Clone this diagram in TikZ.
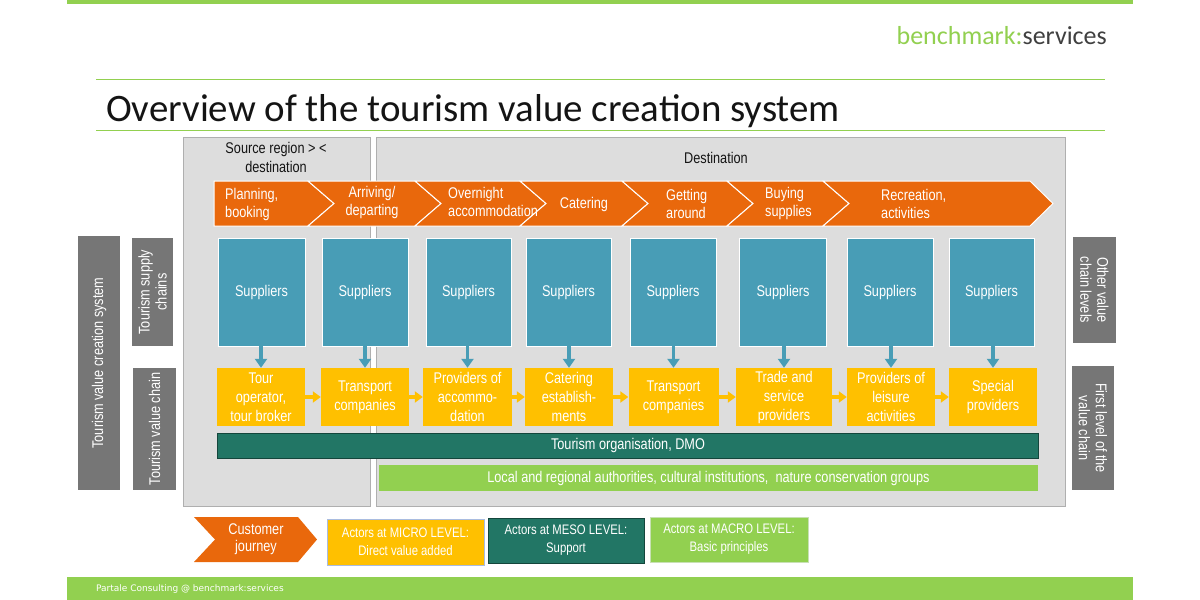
\documentclass[tikz,border=0pt]{standalone}
\usepackage{fontspec}
\setmainfont[FakeStretch=0.82]{Liberation Sans}
\newfontfamily\titlefont{Carlito}
\newfontfamily\footfont{DejaVu Sans}
\usetikzlibrary{arrows.meta}
\definecolor{bgreen}{RGB}{146,208,80}
\definecolor{jorange}{RGB}{233,104,12}
\definecolor{supteal}{RGB}{72,157,182}
\definecolor{microy}{RGB}{255,192,0}
\definecolor{mesoteal}{RGB}{34,118,101}
\definecolor{mesoline}{RGB}{20,70,60}
\definecolor{lblgray}{RGB}{118,118,118}
\definecolor{regiongray}{RGB}{221,221,221}
\definecolor{regionline}{RGB}{175,175,175}
\definecolor{darktext}{RGB}{20,20,20}
\definecolor{servgray}{RGB}{64,64,64}
\definecolor{microline}{RGB}{169,188,224}
\definecolor{macroline}{RGB}{200,224,180}
\begin{document}
\begin{tikzpicture}[x=1pt,y=-1pt,
  region/.style={fill=regiongray,draw=regionline,line width=0.8pt},
  chev/.style={fill=jorange,draw=white,line width=1pt},
  chevtext/.style={text=white,font=\fontsize{15.5}{18}\selectfont,inner sep=0pt},
  supbox/.style={rectangle,fill=supteal,draw=white,line width=0.8pt,text=white,
    font=\fontsize{15.5}{17}\selectfont,inner sep=0pt,minimum height=108pt},
  valbox/.style={rectangle,fill=microy,text=white,align=center,
    font=\fontsize{15.5}{19}\selectfont,inner sep=0pt,minimum height=58pt},
  labbox/.style={rectangle,fill=lblgray,text=white,align=center,
    font=\fontsize{15.5}{17}\selectfont,inner sep=0pt},
  down/.style={draw=supteal,line width=3.5pt,-{Triangle[width=12pt,length=9pt]}},
  side/.style={draw=microy,line width=3.5pt,-{Triangle[width=11pt,length=8pt]}},
  legbox/.style={rectangle,text=white,align=center,line width=0.8pt,
    font=\fontsize{13.8}{18}\selectfont,inner sep=0pt},
  bar/.style={rectangle,text=white,inner sep=0pt,font=\fontsize{15.5}{17}\selectfont}]
\useasboundingbox[fill=white] (0,0) rectangle (1200,600);
% header
\fill[bgreen] (67,0) rectangle (1133,4);
\node[anchor=base east,inner sep=0pt,font=\titlefont\fontsize{26}{30}\selectfont] (brand) at (1107,44)
  {\textcolor{bgreen}{benchmark:}\textcolor{servgray}{services}};
\draw[bgreen,line width=1pt] (96,79) -- (1105,79);
\node[anchor=base west,inner sep=0pt,text=darktext,font=\titlefont\fontsize{38.9}{42}\selectfont] (title) at (106,121)
  {Overview of the tourism value creation system};
\draw[bgreen,line width=1pt] (96,130) -- (1105,130);
% regions
\draw[region] (183,137) rectangle (370,506);
\draw[region] (376,137) rectangle (1065,506);
\node[align=center,text=darktext,font=\fontsize{15.5}{19}\selectfont,inner sep=0pt] (src) at (276,157.5)
  {Source region > <\\destination};
\node[text=darktext,font=\fontsize{15.5}{17}\selectfont,inner sep=0pt] (dst) at (716,158) {Destination};
% chevron band
\fill[chev] (214,181) -- (308,181) -- (334,203.5) -- (308,226) -- (214,226) -- cycle;
\fill[chev] (308,181) -- (415,181) -- (441,203.5) -- (415,226) -- (308,226) -- (334,203.5) -- cycle;
\fill[chev] (415,181) -- (520,181) -- (546,203.5) -- (520,226) -- (415,226) -- (441,203.5) -- cycle;
\fill[chev] (520,181) -- (622,181) -- (648,203.5) -- (622,226) -- (520,226) -- (546,203.5) -- cycle;
\fill[chev] (622,181) -- (727,181) -- (753,203.5) -- (727,226) -- (622,226) -- (648,203.5) -- cycle;
\fill[chev] (727,181) -- (823,181) -- (849,203.5) -- (823,226) -- (727,226) -- (753,203.5) -- cycle;
\fill[chev] (823,181) -- (1030,181) -- (1053,203.5) -- (1030,226) -- (823,226) -- (849,203.5) -- cycle;
\node[chevtext,anchor=west,align=left] (c1) at (225,204) {Planning,\\booking};
\node[chevtext,align=center] (c2) at (372,202) {Arriving/\\departing};
\node[chevtext,anchor=west,align=left] (c3) at (448,202) {Overnight\\accommodation};
\node[chevtext] (c4) at (584,204) {Catering};
\node[chevtext,anchor=west,align=left] (c5) at (666,203.5) {Getting\\around};
\node[chevtext,anchor=west,align=left] (c6) at (765,203.5) {Buying\\supplies};
\node[chevtext,anchor=west,align=left] (c7) at (881,203.5) {Recreation,\\activities};
% suppliers
\node[supbox,minimum width=87pt] (s1) at (261.5,292) {Suppliers};
\node[supbox,minimum width=86pt] (s2) at (365,292) {Suppliers};
\node[supbox,minimum width=85pt] (s3) at (468.5,292) {Suppliers};
\node[supbox,minimum width=85pt] (s4) at (568.5,292) {Suppliers};
\node[supbox,minimum width=86pt] (s5) at (673,292) {Suppliers};
\node[supbox,minimum width=87pt] (s6) at (783,292) {Suppliers};
\node[supbox,minimum width=86pt] (s7) at (890,292) {Suppliers};
\node[supbox,minimum width=85pt] (s8) at (991.5,292) {Suppliers};
% value chain actors
\node[valbox,minimum width=88pt] (v1) at (261,397) {Tour\\operator,\\tour broker};
\node[valbox,minimum width=88pt] (v2) at (365,397) {Transport\\companies};
\node[valbox,minimum width=89pt] (v3) at (467.5,397) {Providers of\\accommo-\\dation};
\node[valbox,minimum width=88pt] (v4) at (569,397) {Catering\\establish-\\ments};
\node[valbox,minimum width=90pt] (v5) at (673.5,397) {Transport\\companies};
\node[valbox,minimum width=96pt] (v6) at (784,397) {Trade and\\service\\providers};
\node[valbox,minimum width=88pt] (v7) at (891,397) {Providers of\\leisure\\activities};
\node[valbox,minimum width=88pt] (v8) at (993,397) {Special\\providers};
% supplier arrows
\foreach \i in {1,...,8}{
  \draw[down] (v\i.north |- s\i.south) -- (v\i.north);
}
% chain arrows
\foreach \i/\j in {1/2,2/3,3/4,4/5,5/6,6/7,7/8}{
  \draw[side] (v\i.east) -- (v\j.west);
}
% bars
\node[bar,fill=mesoteal,draw=mesoline,line width=0.8pt,minimum width=821pt,minimum height=25pt] (dmo) at (627.5,445.5) {};
\node[bar] (dmot) at (628,445.5) {Tourism organisation, DMO};
\node[bar,fill=bgreen,minimum width=659pt,minimum height=26pt] (auth) at (708.5,478)
  {Local and regional authorities, cultural institutions,\ \ nature conservation groups};
% left labels
\node[labbox,rotate=90,minimum width=254pt,minimum height=42pt] (l1) at (99,363) {Tourism value creation system};
\node[labbox,rotate=90,minimum width=108pt,minimum height=41pt] (l2) at (152.5,292) {Tourism supply\\chains};
\node[labbox,rotate=90,minimum width=122pt,minimum height=43pt] (l3) at (154.5,429) {Tourism value chain};
% right labels
\node[labbox,rotate=-90,minimum width=106pt,minimum height=43pt] (r1) at (1094.5,290) {Other value\\chain levels};
\node[labbox,rotate=-90,minimum width=124pt,minimum height=42pt] (r2) at (1093,428) {First level of the\\value chain};
% legend
\fill[jorange] (194,517) -- (298,517) -- (317,539.5) -- (298,562) -- (194,562) -- (215,539.5) -- cycle;
\node[align=center,text=white,font=\fontsize{15.5}{17}\selectfont,inner sep=0pt] (cj) at (256,539.5) {Customer\\journey};
\node[legbox,fill=microy,draw=microline,minimum width=157pt,minimum height=46pt] (micro) at (405.5,542)
  {Actors at MICRO LEVEL:\\Direct value added};
\node[legbox,fill=mesoteal,draw=mesoline,minimum width=156pt,minimum height=45pt] (meso) at (566,540.5)
  {Actors at MESO LEVEL:\\Support};
\node[legbox,fill=bgreen,draw=macroline,minimum width=158pt,minimum height=45pt] (macro) at (729,539.5)
  {Actors at MACRO LEVEL:\\Basic principles};
% footer
\fill[bgreen] (67,577) rectangle (1133,600);
\node[anchor=west,inner sep=0pt,text=white,font=\footfont\fontsize{9}{11}\selectfont] (foot) at (96,589)
  {Partale Consulting @ benchmark:services};
\end{tikzpicture}
\end{document}
